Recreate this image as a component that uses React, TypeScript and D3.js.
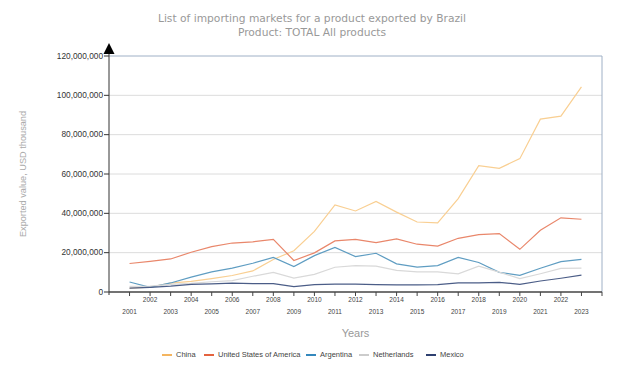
import React from "react";
import * as d3 from "d3";

const years = d3.range(2001, 2024).map(String);
const yTicks = [0, 20e6, 40e6, 60e6, 80e6, 100e6, 120e6];

const china = [1.9, 2.5, 4.5, 5.4, 6.8, 8.4, 10.7, 16.5, 21.0, 30.8, 44.3, 41.2, 46.0, 40.6, 35.6, 35.1, 47.5, 64.2, 62.9, 67.8, 87.9, 89.4, 104.3];
const usa = [14.5, 15.6, 16.8, 20.2, 23.1, 24.9, 25.5, 26.8, 16.0, 19.9, 26.0, 26.8, 25.1, 27.0, 24.3, 23.3, 27.3, 29.2, 29.7, 21.7, 31.4, 37.7, 37.0];
const argentina = [5.1, 2.4, 4.6, 7.6, 10.2, 12.1, 14.6, 17.6, 12.9, 18.5, 22.7, 18.0, 19.7, 14.3, 12.7, 13.4, 17.6, 15.0, 10.0, 8.5, 12.1, 15.4, 16.6];
const netherlands = [2.9, 3.0, 3.9, 4.4, 5.2, 5.8, 8.0, 10.0, 7.1, 9.0, 12.6, 13.4, 13.2, 11.0, 10.2, 10.2, 9.2, 13.1, 10.1, 6.8, 9.3, 12.0, 12.1];
const mexico = [2.0, 2.4, 3.0, 3.9, 4.1, 4.5, 4.3, 4.3, 2.7, 3.7, 4.0, 4.0, 3.7, 3.6, 3.6, 3.8, 4.6, 4.6, 4.9, 3.9, 5.6, 7.0, 8.6];

const seriesNames = ["China", "United States of America", "Argentina", "Netherlands", "Mexico"];
const seriesValues = [china, usa, argentina, netherlands, mexico];
const lineColors = ["#f9cf92", "#e9876b", "#5f9dc2", "#d9d9d9", "#4b5d87"];
const legendColors = ["#f4b560", "#e4633f", "#3488bd", "#cccccc", "#2e4070"];
const legendX = [162, 204, 306, 359, 426];

const W = 624;
const H = 374;
const left = 109;
const right = 602;
const top = 56;
const bottom = 292;

export default function App() {
  const x = d3.scalePoint<string>().domain(years).range([left, right]).padding(1);
  const y = d3.scaleLinear().domain([0, 120e6]).range([bottom, top]);
  const line = d3
    .line<number>()
    .x((_, i) => x(years[i]) as number)
    .y((d) => y(d * 1e6));
  const fmt = d3.format(",");
  const font = "'Liberation Sans', Arial, sans-serif";
  const titleFont = "'DejaVu Sans', Verdana, sans-serif";

  return (
    <svg width={W} height={H} style={{ position: "absolute", left: 0, top: 0, background: "#fff" }} fontFamily={font}>
      <text x={312} y={22} textAnchor="middle" fontSize={10.7} fill="#999" fontFamily={titleFont}>
        List of importing markets for a product exported by Brazil
      </text>
      <text x={312} y={36} textAnchor="middle" fontSize={10.7} fill="#999" fontFamily={titleFont}>
        Product: TOTAL All products
      </text>

      {yTicks.slice(1, -1).map((t) => (
        <line key={t} x1={left} x2={right} y1={y(t)} y2={y(t)} stroke="#dcdcdc" strokeWidth={1} />
      ))}
      <line x1={left} x2={right} y1={top} y2={top} stroke="#9fb0c6" strokeWidth={1} />
      <line x1={right} x2={right} y1={top} y2={bottom} stroke="#9fb0c6" strokeWidth={1} />

      {seriesValues.map((vals, i) => (
        <path key={seriesNames[i]} d={line(vals) || ""} fill="none" stroke={lineColors[i]} strokeWidth={1.2} />
      ))}

      <line x1={left} x2={left} y1={50} y2={bottom + 3} stroke="#333" strokeWidth={1} />
      <path d={`M${left},43 L${left + 5.5},54 L${left - 5.5},54 Z`} fill="#000" />
      {yTicks.map((t) => (
        <g key={t}>
          <line x1={left - 5} x2={left} y1={y(t)} y2={y(t)} stroke="#333" />
          <text x={left - 6} y={y(t)} dy="0.33em" textAnchor="end" fontSize={8.3} fill="#333">
            {fmt(t)}
          </text>
        </g>
      ))}

      <line x1={left} x2={right} y1={bottom} y2={bottom} stroke="#444" strokeWidth={1.5} />
      {years.map((yr, i) => (
        <g key={yr}>
          <line x1={x(yr) as number} x2={x(yr) as number} y1={bottom} y2={bottom + 4} stroke="#444" />
          <text x={x(yr) as number} y={i % 2 === 0 ? 314 : 302} textAnchor="middle" fontSize={6.5} fill="#444">
            {yr}
          </text>
        </g>
      ))}
      <line x1={right} x2={right} y1={bottom} y2={bottom + 4} stroke="#444" />

      <text x={(left + right) / 2} y={337} textAnchor="middle" fontSize={11} fill="#999">
        Years
      </text>
      <text
        transform={`translate(26,${(top + bottom) / 2}) rotate(-90)`}
        textAnchor="middle"
        fontSize={9.2}
        fill="#aaa"
      >
        Exported value, USD thousand
      </text>

      {seriesNames.map((n, i) => (
        <g key={n}>
          <line x1={legendX[i]} x2={legendX[i] + 10} y1={355} y2={355} stroke={legendColors[i]} strokeWidth={2} />
          <text x={legendX[i] + 14} y={355} dy="0.33em" fontSize={7.5} fill="#444">
            {n}
          </text>
        </g>
      ))}
    </svg>
  );
}
